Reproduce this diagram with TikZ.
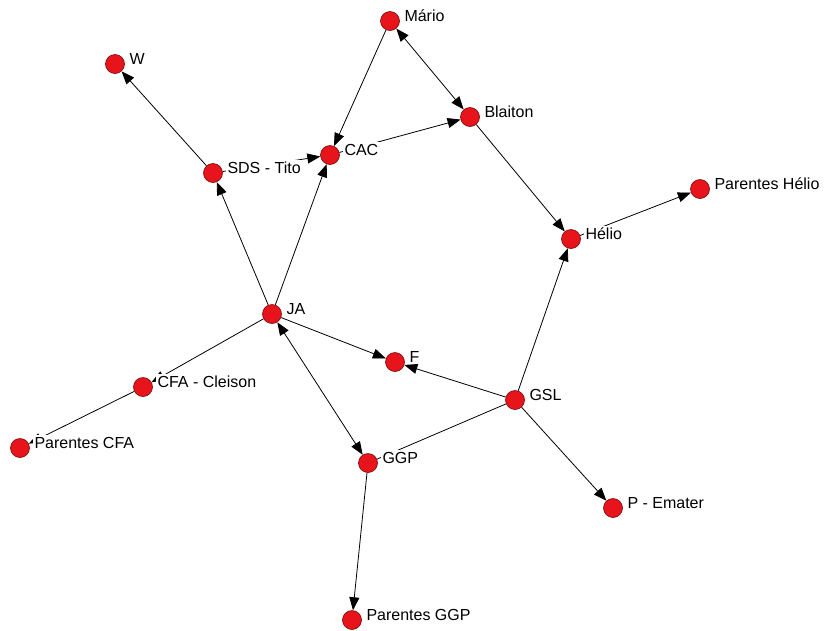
\documentclass[tikz,border=0pt]{standalone}
\usepackage{fontspec}
\setmainfont{Liberation Sans}
\usepackage{tikz}
\usetikzlibrary{arrows.meta,backgrounds}
\definecolor{nodered}{HTML}{E8141C}
\definecolor{noderim}{HTML}{6E0A0A}
\tikzset{
  actor/.style={circle, draw=noderim, fill=nodered, line width=0.6pt, minimum size=19pt, inner sep=0pt},
  lbl/.style={font=\fontsize{16}{18}\selectfont, fill=white, inner sep=1.5pt, anchor=base west, label distance=3pt},
  tie/.style={line width=0.8pt},
  call/.style={tie, -{Triangle[length=13pt, width=10pt]}},
  mutual/.style={tie, {Triangle[length=13pt, width=10pt]}-{Triangle[length=13pt, width=10pt]}},
}

\begin{document}
\begin{tikzpicture}[x=1pt,y=-1pt]
  \useasboundingbox (0,0) rectangle (831,630);
  % actors
  \foreach \x/\y/\nm/\txt in {390/21/mario/Mário, 115/64/w/W, 470/117/blaiton/Blaiton,
      330/155/cac/CAC, 213/173/sds/SDS - Tito, 700/189/phelio/Parentes Hélio,
      571/239/helio/Hélio, 272/314/ja/JA, 395/362/f/F, 143/387/cfa/CFA - Cleison,
      515/400/gsl/GSL, 20/448/pcfa/Parentes CFA, 368/463/ggp/GGP,
      613/508/pemater/P - Emater, 352/620/pggp/Parentes GGP}
    \node[actor, label={[lbl]right:\txt}] (\nm) at (\x,\y) {};
  % ties
  \begin{scope}[on background layer]
    \foreach \a/\b in {mario/cac, cac/blaiton, sds/cac, sds/w, ja/sds, ja/cac,
        blaiton/helio, helio/phelio, gsl/helio, ja/f, gsl/f, gsl/pemater,
        ggp/pggp, ja/cfa, cfa/pcfa}
      \draw[call] (\a) -- (\b);
    \draw[mutual] (mario) -- (blaiton);
    \draw[mutual] (ja) -- (ggp);
    \draw[tie] (gsl) -- (ggp);
  \end{scope}
\end{tikzpicture}
\end{document}
